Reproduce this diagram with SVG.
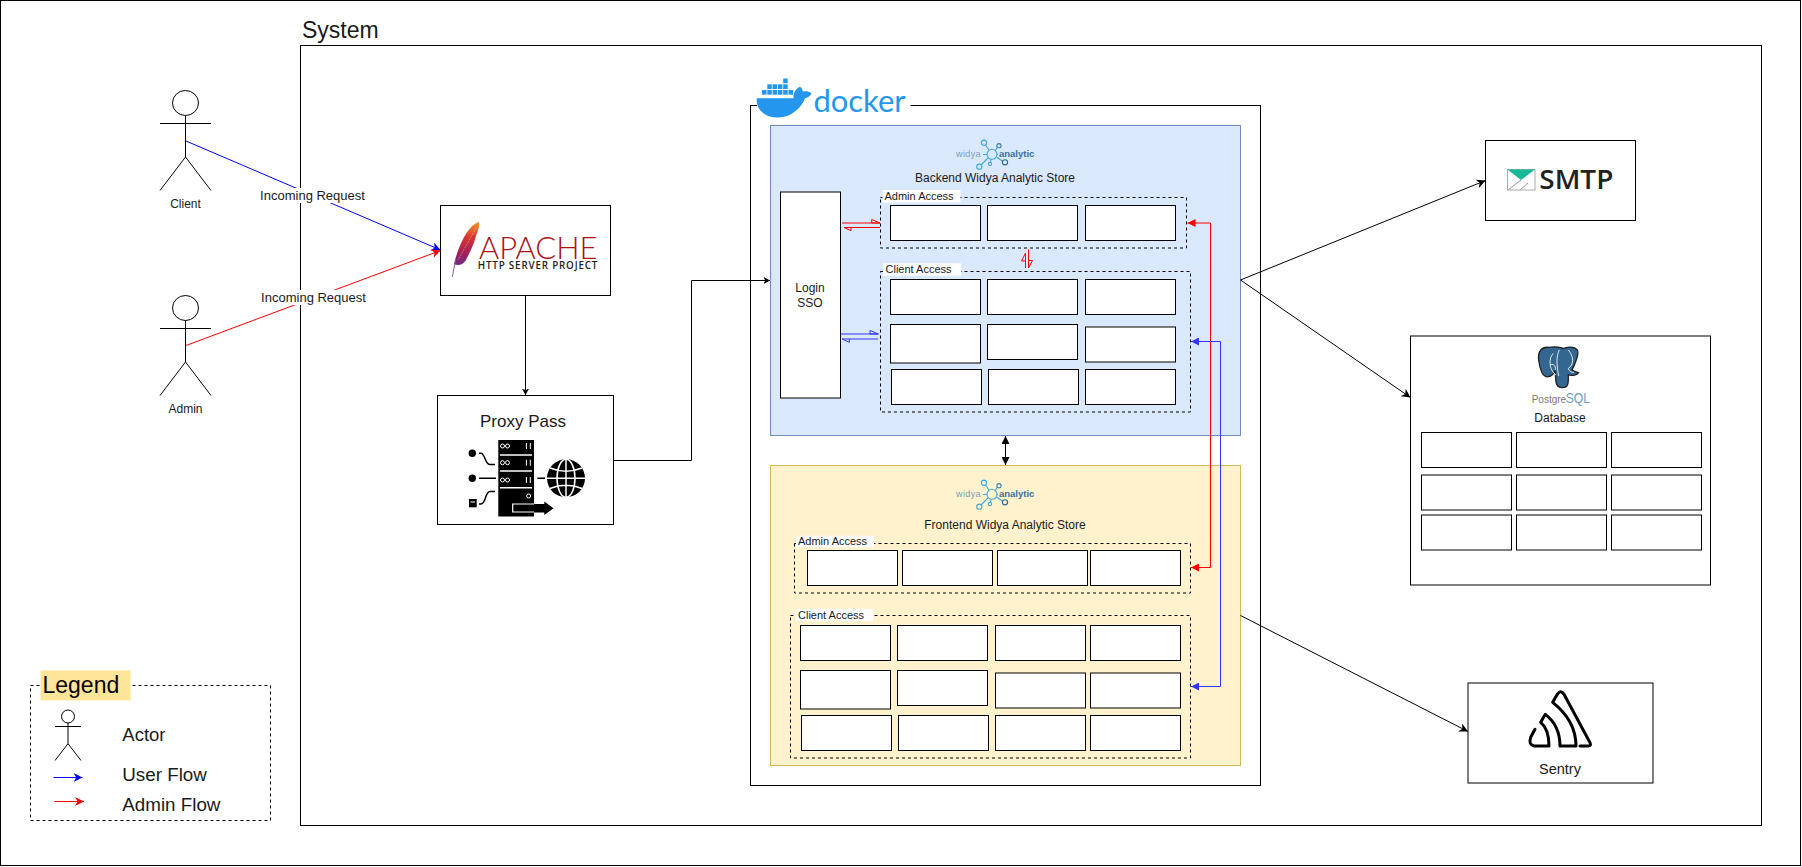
<svg xmlns="http://www.w3.org/2000/svg" width="1802" height="867" viewBox="0 0 1802 867">
<style>
text{font-family:"Liberation Sans",Arial,sans-serif;fill:#1a1a1a}
.t12{font-size:12px}.t11{font-size:11px}.t13{font-size:13px}
.m{text-anchor:middle}
.f{fill:none;stroke:#000;stroke-width:1}
.b{fill:#fff;stroke:#000;stroke-width:1}
.d{fill:none;stroke:#000;stroke-width:1;stroke-dasharray:3 3}
.w{fill:#fff}
.a{fill:#fff;stroke:#000;stroke-width:1}
.k{fill:none;stroke:#000;stroke-width:1}
.r{fill:none;stroke:#f00;stroke-width:1}
.u{fill:none;stroke:#33f;stroke-width:1}
.c{fill:#2496ed}
.nw{fill:none;stroke:#3fa9dc;stroke-width:1.1}
.wy{font-size:9px;fill:#7f9dbb;letter-spacing:.4px}
.an{font-size:9.5px;font-weight:bold;fill:#3d6f9e}
.sw{stroke:#fff;stroke-width:1;fill:none}
</style>
<defs>
<marker id="ck" viewBox="0 0 10 10" refX="10" refY="5" markerWidth="9" markerHeight="9" markerUnits="userSpaceOnUse" orient="auto"><path d="M0 0L10 5L0 10L3 5z" fill="#000"/></marker>
<marker id="cs" viewBox="0 0 10 10" refX="10" refY="5" markerWidth="7" markerHeight="7" markerUnits="userSpaceOnUse" orient="auto"><path d="M1 0L10 5L1 10L3 5z" fill="#000"/></marker>
<marker id="cu" viewBox="0 0 10 10" refX="10" refY="5" markerWidth="9" markerHeight="9" markerUnits="userSpaceOnUse" orient="auto"><path d="M0 0L10 5L0 10L3 5z" fill="#00f"/></marker>
<marker id="cr" viewBox="0 0 10 10" refX="10" refY="5" markerWidth="9" markerHeight="9" markerUnits="userSpaceOnUse" orient="auto"><path d="M0 0L10 5L0 10L3 5z" fill="#f00"/></marker>
<marker id="bk" viewBox="0 0 10 10" refX="10" refY="5" markerWidth="8" markerHeight="8" markerUnits="userSpaceOnUse" orient="auto-start-reverse"><path d="M0 0L10 5L0 10z" fill="#000"/></marker>
<marker id="br" viewBox="0 0 10 10" refX="10" refY="5" markerWidth="8" markerHeight="8" markerUnits="userSpaceOnUse" orient="auto-start-reverse"><path d="M0 0L10 5L0 10z" fill="#f00"/></marker>
<marker id="bu" viewBox="0 0 10 10" refX="10" refY="5" markerWidth="8" markerHeight="8" markerUnits="userSpaceOnUse" orient="auto-start-reverse"><path d="M0 0L10 5L0 10z" fill="#33f"/></marker>
<g id="net">
<circle cx="992" cy="154.3" r="5" class="nw" stroke-width="1.5"/>
<path class="nw" d="M985.5 145L989 150M997 147.5L995.5 150.5M981 165L988 158M990.5 162.5L991 159M1003 161.5L996.5 157"/>
<path class="nw" d="M983 154.5h4M997 154.5h1"/>
<circle cx="984" cy="142.7" r="2.6" class="nw"/>
<circle cx="999" cy="145.7" r="2.1" class="nw" style="stroke:#3d7fb0"/>
<circle cx="979.3" cy="166.7" r="2.6" class="nw"/>
<circle cx="990" cy="164" r="1.6" class="nw"/>
<circle cx="1005" cy="162.3" r="2.6" class="nw" style="stroke:#2b6a99"/>
</g>
<linearGradient id="fe" x1="0" y1="0" x2="0" y2="1"><stop offset="0" stop-color="#f69923"/><stop offset=".35" stop-color="#d9352f"/><stop offset=".75" stop-color="#a01f5c"/><stop offset="1" stop-color="#6d2d86"/></linearGradient>
</defs>

<g id="frame"><rect x="0.5" y="0.5" width="1800" height="865" class="f"/></g>

<g id="system">
<rect x="300.5" y="45.5" width="1461" height="780" class="f"/>
<text x="302" y="37.5" style="font-size:23px">System</text>
</g>

<g id="actor-client">
<ellipse cx="185.5" cy="103" rx="13" ry="12.5" class="a"/>
<path class="k" d="M185.5 115.5V157M160 123.5H211M160 190.5L185.5 157L211 190.5"/>
<text x="185.5" y="208" class="t12 m">Client</text>
</g>
<g id="actor-admin">
<ellipse cx="185.5" cy="308" rx="13" ry="12.5" class="a"/>
<path class="k" d="M185.5 320.5V362M160 328.5H211M160 395.5L185.5 362L211 395.5"/>
<text x="185.5" y="413" class="t12 m">Admin</text>
</g>

<g id="apache">
<rect x="440.5" y="205.5" width="170" height="90" class="b"/>
<path d="M479 222C470 224 460 240 454 264C458 266 463 265 466 260C470 252 474 244 476 236C478 230 480 226 479 222Z" fill="url(#fe)"/>
<path d="M455.5 260L452.3 277" stroke="#8a5a9e" stroke-width="1" fill="none"/>
<path d="M476 228L458 260" stroke="#fff" stroke-opacity=".6" stroke-width=".6" stroke-dasharray="2 1" fill="none"/>
<text x="479" y="258.7" textLength="118.5" lengthAdjust="spacingAndGlyphs" style="font-family:Lato,'Liberation Sans',sans-serif;font-size:31px;font-weight:300;fill:#ac1116">APACHE</text>
<text x="477.7" y="268.7" textLength="119.6" lengthAdjust="spacing" style="font-family:'Open Sans','Liberation Sans',sans-serif;font-size:9.8px;font-weight:600;fill:#222">HTTP SERVER PROJECT</text>
</g>

<g id="proxy-pass">
<rect x="437.5" y="395.5" width="176" height="129" class="b"/>
<text x="523" y="426.7" class="m" style="font-size:17px">Proxy Pass</text>
<rect x="498.3" y="440" width="35.7" height="76.5" fill="#000"/>
<path d="M500 455H532M500 471H532M500 487.7H532" stroke="#fff" stroke-width="1.5"/>
<g class="sw">
<circle cx="502.5" cy="446" r="2"/><circle cx="507.5" cy="446" r="2"/>
<circle cx="502.5" cy="462.7" r="2"/><circle cx="507.5" cy="462.7" r="2"/>
<circle cx="502.5" cy="480" r="2"/><circle cx="507.5" cy="480" r="2"/>
<circle cx="528.7" cy="496" r="2"/>
<path d="M526.4 443V449M530.3 443V449M526.4 459.7V465.7M530.3 459.7V465.7M526.4 477V483M530.3 477V483"/>
</g>
<path d="M512.5 504H544.3V501.5L553.5 508.3L544.3 515V512.5H512.5Z" fill="#000"/>
<path d="M534 504H512.7V512H534" stroke="#fff" stroke-width="1.2" fill="none"/>
<circle cx="472.3" cy="453.3" r="3.7" fill="#000"/>
<circle cx="472.3" cy="478.3" r="3.7" fill="#000"/>
<rect x="469" y="499" width="7.7" height="8.3" fill="#000"/>
<path d="M470.5 502H475" stroke="#fff"/>
<path d="M479 453.3H481C485 453.3 485 464.5 490 464.5H495M479 478.3H496M479 504H481C486 504 485 491.5 490 491.5H495M537.3 478.3H545" fill="none" stroke="#000" stroke-width="1.5"/>
<circle cx="566" cy="478.3" r="19" fill="#000"/>
<g class="sw" style="stroke-width:1.5"><ellipse cx="566" cy="478.3" rx="9" ry="19"/><path d="M566 459V497M547 478.3H585M550 468C560 472 572 472 582 468M550 488.5C560 484.5 572 484.5 582 488.5"/></g>
</g>

<g id="docker">
<rect x="750.5" y="105.5" width="510" height="680" class="f"/>
<rect x="757" y="100" width="153.5" height="10" class="w"/>
<path class="c" d="M756.7 98.3H793.5C793 93 795.5 89 800 86.7C802 88 802.8 90 802.6 91.5C805 90.8 809 91 811.7 93.3C810 96.3 807.5 98 805 98.3C801 109 790 117.5 779 117.5C765 118 756 110 756.7 98.3Z"/>
<g class="c">
<rect x="762" y="90" width="4.5" height="4.7"/><rect x="767.3" y="90" width="4.5" height="4.7"/><rect x="772.6" y="90" width="4.5" height="4.7"/><rect x="777.9" y="90" width="4.5" height="4.7"/><rect x="783.2" y="90" width="4.5" height="4.7"/><rect x="788.5" y="90" width="4.5" height="4.7"/>
<rect x="767.3" y="84.3" width="4.5" height="4.7"/><rect x="772.6" y="84.3" width="4.5" height="4.7"/><rect x="777.9" y="84.3" width="4.5" height="4.7"/><rect x="783.2" y="84.3" width="4.5" height="4.7"/>
<rect x="783.2" y="78.5" width="4.5" height="4.7"/>
</g>
<text x="813.5" y="111.5" textLength="92" lengthAdjust="spacingAndGlyphs" style="font-family:Lato,'Liberation Sans',sans-serif;font-size:30px;fill:#2496ed">docker</text>
</g>

<g id="backend">
<rect x="770.5" y="125.5" width="470" height="310" fill="#dae8fc" stroke="#6c8ebf"/>
<use href="#net"/>
<text x="956" y="156.7" class="wy">widya</text>
<text x="999" y="157" class="an">analytic</text>
<text x="995" y="181.7" class="t12 m">Backend Widya Analytic Store</text>
</g>
<g id="login-sso">
<rect x="780.5" y="192" width="60" height="206" class="b"/>
<text x="810" y="292" class="t12 m">Login</text>
<text x="810" y="307" class="t12 m">SSO</text>
</g>
<g id="backend-admin-access">
<rect x="880.5" y="197.5" width="306" height="50.5" class="d"/>
<rect x="882.5" y="190" width="78" height="12.7" class="w"/>
<text x="884.5" y="200" class="t11">Admin Access</text>
<rect x="890.5" y="205.5" width="90" height="35" class="b"/>
<rect x="987.5" y="205.5" width="90" height="35" class="b"/>
<rect x="1085.5" y="205.5" width="90" height="35" class="b"/>
</g>
<g id="backend-client-access">
<rect x="880.5" y="271.5" width="310" height="140.5" class="d"/>
<rect x="883" y="263.3" width="78" height="12.4" class="w"/>
<text x="885.5" y="273.3" class="t11">Client Access</text>
<rect x="890.5" y="279.5" width="90" height="35" class="b"/>
<rect x="987.5" y="279.5" width="90" height="35" class="b"/>
<rect x="1085.5" y="279.5" width="90" height="35" class="b"/>
<rect x="890.5" y="324.5" width="90" height="38.5" class="b"/>
<rect x="987.5" y="324.5" width="90" height="35" class="b"/>
<rect x="1085.5" y="327" width="90" height="35" class="b"/>
<rect x="891.5" y="369.5" width="90" height="35" class="b"/>
<rect x="988.5" y="369.5" width="90" height="35" class="b"/>
<rect x="1085.5" y="369.5" width="90" height="35" class="b"/>
</g>

<g id="frontend">
<rect x="770.5" y="465.5" width="470" height="300" fill="#fff2cc" stroke="#d6b656"/>
<use href="#net" y="340"/>
<text x="956" y="496.7" class="wy">widya</text>
<text x="999" y="497" class="an">analytic</text>
<text x="1005" y="529" class="t12 m">Frontend Widya Analytic Store</text>
</g>
<g id="frontend-admin-access">
<rect x="794.5" y="543.5" width="396" height="49.5" class="d"/>
<rect x="796" y="535.7" width="78" height="11.5" class="w"/>
<text x="798" y="545.3" class="t11">Admin Access</text>
<rect x="807.5" y="550.5" width="90" height="35" class="b"/>
<rect x="902.5" y="550.5" width="90" height="35" class="b"/>
<rect x="997.5" y="550.5" width="90" height="35" class="b"/>
<rect x="1090.5" y="550.5" width="90" height="35" class="b"/>
</g>
<g id="frontend-client-access">
<rect x="790.5" y="615.5" width="400" height="142.5" class="d"/>
<rect x="796" y="609" width="77" height="12" class="w"/>
<text x="798" y="619.3" class="t11">Client Access</text>
<rect x="800.5" y="625.5" width="90" height="35" class="b"/>
<rect x="897.5" y="625.5" width="90" height="35" class="b"/>
<rect x="995.5" y="625.5" width="90" height="35" class="b"/>
<rect x="1090.5" y="625.5" width="90" height="35" class="b"/>
<rect x="800.5" y="670.5" width="90" height="38.5" class="b"/>
<rect x="897.5" y="670.5" width="90" height="35" class="b"/>
<rect x="995.5" y="673" width="90" height="35" class="b"/>
<rect x="1090.5" y="673" width="90" height="35" class="b"/>
<rect x="801.5" y="715.5" width="90" height="35" class="b"/>
<rect x="898.5" y="715.5" width="90" height="35" class="b"/>
<rect x="995.5" y="715.5" width="90" height="35" class="b"/>
<rect x="1090.5" y="715.5" width="90" height="35" class="b"/>
</g>

<g id="smtp">
<rect x="1485.5" y="140.5" width="150" height="80" class="b"/>
<rect x="1507.5" y="169.5" width="27.5" height="20.5" fill="#fff" stroke="#aaa"/>
<path d="M1507.5 169.5H1535L1521 180Z" fill="#17b897"/>
<path d="M1508 190L1521 180M1520 190L1528 183" stroke="#999" fill="none"/>
<text x="1539.3" y="189.3" textLength="74" lengthAdjust="spacingAndGlyphs" style="font-family:'Open Sans','Liberation Sans',sans-serif;font-size:27px;font-weight:600;fill:#222">SMTP</text>
</g>

<g id="database">
<rect x="1410.5" y="336" width="300" height="249" class="b"/>
<g transform="translate(1500 120) scale(.3333)">
<path d="M145 682C125 680 113 695 116 720C119 745 128 775 145 770C155 768 162 760 165 752L168 785C170 808 200 808 204 790C206 778 205 770 205 765C218 768 232 765 236 758C228 755 220 754 216 750C228 725 238 700 232 690C222 678 200 680 190 686C178 678 160 680 145 682Z" fill="#336791" stroke="#222" stroke-width="4"/>
<path d="M160 700C145 715 148 745 162 760L168 765M150 735C158 730 168 735 166 750M205 690C222 710 222 735 205 745M178 690C168 710 170 735 176 768M205 745C208 755 214 758 222 757" stroke="#fff" stroke-width="2.5" fill="none"/>
</g>
<text x="1531.7" y="402.7" style="font-size:10px;fill:#777">Postgre</text>
<text x="1565.7" y="402.7" textLength="24.3" lengthAdjust="spacingAndGlyphs" style="font-size:14px;fill:#6f9bc6">SQL</text>
<text x="1560" y="421.7" class="t12 m">Database</text>
<rect x="1421.5" y="432.5" width="90" height="35" class="b"/>
<rect x="1516.5" y="432.5" width="90" height="35" class="b"/>
<rect x="1611.5" y="432.5" width="90" height="35" class="b"/>
<rect x="1421.5" y="475" width="90" height="35" class="b"/>
<rect x="1516.5" y="475" width="90" height="35" class="b"/>
<rect x="1611.5" y="475" width="90" height="35" class="b"/>
<rect x="1421.5" y="515" width="90" height="35" class="b"/>
<rect x="1516.5" y="515" width="90" height="35" class="b"/>
<rect x="1611.5" y="515" width="90" height="35" class="b"/>
</g>

<g id="sentry">
<rect x="1468" y="683" width="185" height="100" class="b"/>
<path transform="translate(1400 660) scale(.3333)" d="M540 258H565Q575 258 570 248L492 103Q482 88 472 103L458 127C500 160 528 205 528 258H480C480 220 465 185 436 163L422 187C445 205 447 235 447 258H402Q385 255 392 232L405 208" fill="none" stroke="#000" stroke-width="9" stroke-linejoin="round" stroke-linecap="round"/>
<text x="1560" y="774" class="m" style="font-size:14.5px">Sentry</text>
</g>

<g id="legend">
<rect x="30.5" y="685.5" width="240" height="135" class="d"/>
<rect x="40.5" y="670.5" width="90" height="30" fill="#ffe599"/>
<text x="42.5" y="692.7" style="font-size:23px;fill:#000">Legend</text>
<circle cx="68" cy="716.5" r="6.5" class="a"/>
<path class="k" d="M68 723V743.7M55 726.5H81M55 760.5L68 743.7L81 760.5"/>
<text x="122.3" y="741" style="font-size:18.5px">Actor</text>
<path d="M53.500 777.5H82.5" stroke="#00f" fill="none" marker-end="url(#cu)"/>
<text x="122.3" y="780.7" style="font-size:18.8px">User Flow</text>
<path d="M54.500 801.5H84" stroke="#f00" fill="none" marker-end="url(#cr)"/>
<text x="122.3" y="810.7" style="font-size:18.8px">Admin Flow</text>
</g>

<g id="connectors">
<path d="M186 141L440.500 250" fill="none" stroke="#00f" marker-end="url(#cu)"/>
<path d="M186 345.500L440.500 250.500" class="r" marker-end="url(#cr)"/>
<rect x="260" y="188" width="105" height="15" class="w"/>
<text x="312.5" y="200" class="t13 m">Incoming Request</text>
<rect x="261" y="290" width="105" height="15" class="w"/>
<text x="313.5" y="302" class="t13 m">Incoming Request</text>
<path d="M525.5 295.5V395" class="k" marker-end="url(#cs)"/>
<path d="M613.5 460.5H691.5V280.5H770" class="k" marker-end="url(#cs)"/>
<path d="M1005.5 436V465" class="k" marker-start="url(#bk)" marker-end="url(#bk)"/>
<path d="M842 223H880M871.7 219.5L880 223H871.7Z" class="r"/>
<path d="M880 227.5H844L851 230.7V227.5" class="r"/>
<path d="M841 334H878.3M870 330.5L878.3 334H870Z" class="u"/>
<path d="M878 339H842L849.3 342.3V339" class="u"/>
<path d="M1028.5 249.5V268L1032.5 260.5H1028.5" class="r"/>
<path d="M1025.5 268V253L1021.5 261H1025.5" class="r"/>
<path d="M1187.5 223H1210.5V567.5H1191" class="r" marker-start="url(#br)" marker-end="url(#br)"/>
<path d="M1191 341.5H1220.5V686.5H1191" class="u" marker-start="url(#bu)" marker-end="url(#bu)"/>
<path d="M1240.5 280L1485.5 180.5" class="k" marker-end="url(#ck)"/>
<path d="M1240.5 280L1410.5 397.5" class="k" marker-end="url(#ck)"/>
<path d="M1240.5 615.5L1468 731.5" class="k" marker-end="url(#ck)"/>
</g>
</svg>
